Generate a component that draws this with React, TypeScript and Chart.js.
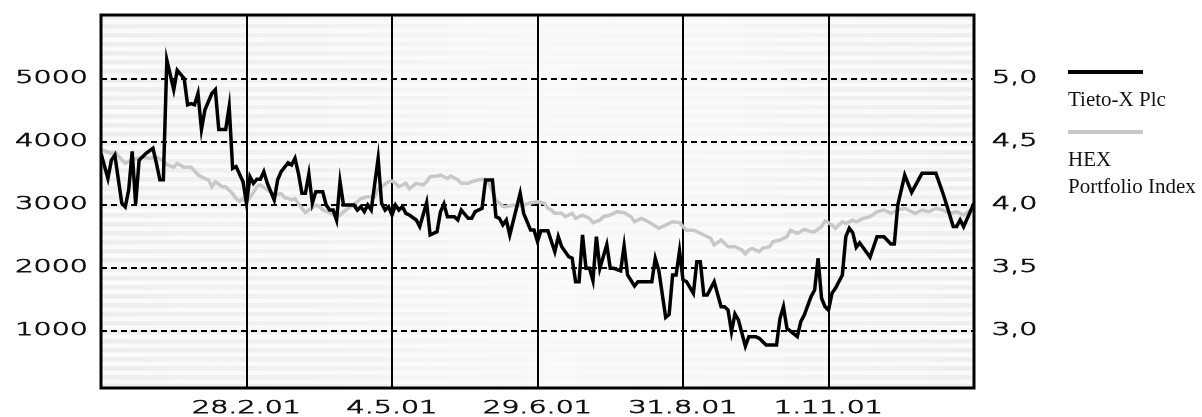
import React, { useEffect, useRef } from 'react';
import { Chart, registerables } from 'chart.js';

Chart.register(...registerables);

// ---- data ----
const dateLabels = ['', '28.2.01', '4.5.01', '29.6.01', '31.8.01', '1.11.01', ''];
const dateTickDays = [0, 42, 84, 126, 168, 210, 252];
const leftTicks = [1000, 2000, 3000, 4000, 5000];
const rightTicks = [3.0, 3.5, 4.0, 4.5, 5.0];
const seriesNames = ['Tieto-X Plc', 'HEX\nPortfolio Index'];

const tietoDays = [
  0, 2, 3, 4, 6, 7, 8, 9, 10, 11, 13, 15, 16, 17, 18, 19, 21, 22, 24, 25, 26, 27, 28, 29, 30, 32, 33, 34, 36, 37, 38, 39, 41, 42,
  43, 44, 45, 46, 47, 48, 50, 51, 52, 54, 55, 56, 57, 58, 59, 60, 61, 62, 64, 65, 66, 67, 68, 69, 70, 73, 74, 75, 76, 77, 78, 80, 81, 82, 83, 84,
  85, 86, 87, 88, 89, 91, 92, 94, 95, 97, 98, 99, 100, 102, 103, 104, 106, 107, 108, 110, 111, 113, 114, 115, 116, 117, 118, 121, 122, 124, 125, 126,
  127, 129, 131, 132, 133, 135, 136, 137, 138, 139, 140, 141, 142, 143, 144, 146, 147, 148, 150, 151, 152, 154, 155, 159, 160, 161, 163, 164, 165, 166, 167, 168,
  169, 171, 172, 173, 174, 175, 177, 179, 180, 181, 182, 183, 184, 186, 187, 189, 190, 192, 195, 196, 197, 198, 201, 202, 203, 205, 206, 207, 208, 209, 210,
  211, 212, 214, 215, 216, 217, 218, 219, 222, 224, 226, 228, 229, 230, 232, 234, 237, 241, 243, 244, 246, 247, 248, 249, 252,
];
const tietoPrice = [
  3820, 3420, 3710, 3790, 3030, 2970, 3240, 3850, 3015, 3710, 3820, 3900, 3660, 3400, 3400, 5300, 4830, 5140, 5010, 4590, 4610, 4590, 4770, 4200, 4510, 4770, 4830, 4200, 4200, 4560, 3580, 3610, 3370, 3030,
  3450, 3345, 3410, 3410, 3530, 3345, 3080, 3400, 3530, 3670, 3635, 3740, 3500, 3185, 3185, 3490, 3027, 3210, 3210, 3000, 2920, 2920, 2760, 3370, 3000, 3000, 2920, 2973, 2894, 3000, 2920, 3740, 3027, 2920, 2973, 2840,
  3000, 2920, 2973, 2868, 2841, 2762, 2656, 3037, 2524, 2576, 2894, 3016, 2814, 2814, 2762, 2920, 2789, 2789, 2894, 2948, 3397, 3397, 2814, 2789, 2683, 2762, 2524, 3186, 2868, 2603, 2603, 2420,
  2592, 2592, 2259, 2497, 2338, 2179, 2154, 1783, 1783, 2524, 1995, 1995, 1800, 2497, 1995, 2370, 1995, 1995, 1955, 2350, 1890, 1714, 1783, 1783, 2154, 1968, 1215, 1262, 1889, 1889, 2270, 1810,
  1783, 1598, 2100, 2100, 1571, 1571, 1783, 1386, 1386, 1333, 989, 1270, 1175, 760, 910, 910, 884, 778, 778, 1200, 1386, 1043, 910, 1148, 1254, 1550, 1650, 2154, 1519, 1386, 1330,
  1598, 1678, 1889, 2497, 2630, 2560, 2330, 2400, 2170, 2497, 2497, 2381, 2381, 3000, 3476, 3200, 3503, 3503, 3190, 3020, 2660, 2660, 2762, 2656, 3027,
];

const hexDays = [
  0, 3, 4, 6, 7, 9, 12, 14, 16, 18, 19, 21, 22, 24, 26, 28, 30, 31, 32, 33, 35, 36, 38, 39, 40, 41, 42,
  44, 45, 46, 48, 50, 52, 53, 55, 56, 57, 59, 60, 62, 63, 64, 66, 68, 69, 70, 72, 74, 75, 77, 79, 80, 81, 83, 84,
  85, 86, 88, 89, 91, 93, 94, 95, 97, 98, 100, 101, 103, 104, 106, 107, 109, 111, 112, 114, 116, 117, 119, 120, 122, 124, 126,
  128, 129, 130, 131, 133, 134, 136, 137, 139, 141, 142, 144, 145, 147, 149, 151, 153, 154, 156, 158, 161, 163, 165, 167, 168,
  169, 171, 172, 174, 176, 177, 179, 181, 183, 185, 186, 187, 188, 190, 191, 193, 194, 196, 198, 199, 201, 203, 205, 206, 208, 209, 210,
  211, 212, 214, 215, 217, 218, 220, 222, 224, 226, 228, 230, 232, 235, 237, 239, 241, 243, 245, 247, 249, 251, 252,
];
const hexIndex = [
  4.44, 4.41, 4.42, 4.36, 4.33, 4.36, 4.38, 4.37, 4.38, 4.35, 4.32, 4.30, 4.33, 4.30, 4.30, 4.24, 4.21, 4.20, 4.145, 4.185, 4.145, 4.145, 4.09, 4.05, 4.03, 4.05, 4.02,
  4.10, 4.145, 4.16, 4.12, 4.08, 4.09, 4.06, 4.04, 4.05, 4.01, 3.94, 3.96, 4.00, 3.99, 3.96, 3.94, 3.907, 3.92, 3.945, 3.985, 4.026, 4.05, 4.066, 4.066, 4.13, 4.145, 4.185, 4.19,
  4.172, 4.145, 4.172, 4.13, 4.172, 4.16, 4.185, 4.225, 4.23, 4.238, 4.21, 4.23, 4.20, 4.172, 4.172, 4.185, 4.20, 4.204, 4.172, 4.04, 3.99, 3.987, 4.00, 3.992, 4.00, 4.016, 4.026,
  4.013, 3.974, 3.96, 3.934, 3.934, 3.907, 3.934, 3.894, 3.92, 3.894, 3.86, 3.88, 3.907, 3.92, 3.947, 3.939, 3.907, 3.867, 3.894, 3.867, 3.815, 3.84, 3.867, 3.86, 3.828,
  3.80, 3.80, 3.788, 3.762, 3.736, 3.683, 3.722, 3.669, 3.669, 3.643, 3.611, 3.643, 3.656, 3.629, 3.656, 3.669, 3.709, 3.722, 3.748, 3.80, 3.775, 3.807, 3.788, 3.788, 3.828, 3.875, 3.86,
  3.84, 3.815, 3.867, 3.855, 3.88, 3.867, 3.894, 3.907, 3.947, 3.96, 3.934, 3.96, 3.974, 3.934, 3.96, 3.947, 3.974, 3.96, 3.934, 3.947, 3.92, 3.96, 3.96,
];

const AXIS_FONT = '200 17px "DejaVu Sans"';
const AXIS_STRETCH = 1.68;
const LEGEND_FONT = '21px "Liberation Serif"';

function drawWide(ctx: CanvasRenderingContext2D, text: string, x: number, y: number, align: CanvasTextAlign) {
  ctx.save();
  ctx.translate(x, y);
  ctx.scale(AXIS_STRETCH, 1);
  ctx.textAlign = align;
  ctx.lineWidth = 0.75;
  ctx.strokeStyle = '#111';
  ctx.fillText(text, 0, 0);
  ctx.strokeText(text, 0, 0);
  ctx.restore();
}

const stripesPlugin = {
  id: 'stripes',
  beforeDraw(chart: any) {
    const { ctx, chartArea: a } = chart;
    ctx.save();
    ctx.fillStyle = '#fafafa';
    ctx.fillRect(a.left, a.top, a.right - a.left, a.bottom - a.top);
    const g = ctx.createLinearGradient(a.left, 0, a.right, 0);
    g.addColorStop(0, '#eeeeee');
    g.addColorStop(0.3, '#f2f2f2');
    g.addColorStop(0.5, '#f8f8f8');
    g.addColorStop(0.7, '#f6f6f6');
    g.addColorStop(0.85, '#f1f1f1');
    g.addColorStop(1, '#eeeeee');
    ctx.fillStyle = g;
    for (let y = a.top; y < a.bottom; y += 9) {
      ctx.fillRect(a.left, y, a.right - a.left, Math.min(4.5, a.bottom - y));
    }
    ctx.restore();
  },
  afterDraw(chart: any) {
    const { ctx, chartArea: a, scales } = chart;
    ctx.save();
    // frame
    ctx.strokeStyle = '#000';
    ctx.lineWidth = 3;
    ctx.strokeRect(a.left, a.top, a.right - a.left, a.bottom - a.top);

    // axis labels (from library scales)
    ctx.fillStyle = '#111';
    ctx.font = AXIS_FONT;
    ctx.textBaseline = 'middle';
    scales.y.ticks.forEach((t: any, i: number) => {
      drawWide(ctx, String(t.value), a.left - 13, scales.y.getPixelForTick(i), 'right');
    });
    scales.y1.ticks.forEach((t: any, i: number) => {
      drawWide(ctx, t.value.toFixed(1).replace('.', ','), a.right + 18, scales.y1.getPixelForTick(i), 'left');
    });
    ctx.textBaseline = 'alphabetic';
    scales.x.ticks.forEach((t: any, i: number) => {
      const idx = dateTickDays.indexOf(t.value);
      const lab = idx >= 0 ? dateLabels[idx] : '';
      if (lab) drawWide(ctx, lab, scales.x.getPixelForTick(i), a.bottom + 25, 'center');
    });

    // legend
    const lx = a.right + 94;
    const lw = 75;
    const ds = chart.data.datasets;
    ctx.lineCap = 'butt';
    ctx.strokeStyle = ds[0].borderColor;
    ctx.lineWidth = 4;
    ctx.beginPath();
    ctx.moveTo(lx, a.top + 57);
    ctx.lineTo(lx + lw, a.top + 57);
    ctx.stroke();
    ctx.strokeStyle = ds[1].borderColor;
    ctx.beginPath();
    ctx.moveTo(lx, a.top + 117);
    ctx.lineTo(lx + lw, a.top + 117);
    ctx.stroke();
    ctx.fillStyle = '#111';
    ctx.font = LEGEND_FONT;
    ctx.textAlign = 'left';
    const l0 = String(ds[0].label).split('\n');
    l0.forEach((s, k) => ctx.fillText(s, lx, a.top + 91 + k * 27));
    const l1 = String(ds[1].label).split('\n');
    l1.forEach((s, k) => ctx.fillText(s, lx, a.top + 151 + k * 27));
    ctx.restore();
  },
};

export default function App() {
  const ref = useRef<HTMLCanvasElement | null>(null);
  useEffect(() => {
    document.body.style.margin = '0';
    const canvas = ref.current!;
    const chart = new Chart(canvas, {
      type: 'line',
      data: {
        datasets: [
          {
            label: seriesNames[0],
            data: tietoDays.map((d, i) => ({ x: d, y: tietoPrice[i] })),
            yAxisID: 'y',
            borderColor: '#000000',
            borderWidth: 3.5,
            pointRadius: 0,
            tension: 0,
          },
          {
            label: seriesNames[1],
            data: hexDays.map((d, i) => ({ x: d, y: hexIndex[i] })),
            yAxisID: 'y1',
            borderColor: '#c8c8c8',
            borderWidth: 3.5,
            pointRadius: 0,
            tension: 0,
          },
        ],
      },
      options: {
        animation: false,
        responsive: false,
        devicePixelRatio: 1,
        layout: { padding: { top: 15, left: 0, right: 0, bottom: 0 } },
        plugins: { legend: { display: false }, tooltip: { enabled: false } },
        scales: {
          x: {
            type: 'linear',
            min: 0,
            max: 252,
            afterBuildTicks: (s: any) => {
              s.ticks = dateTickDays.map((v) => ({ value: v }));
            },
            afterFit: (s: any) => {
              s.height = 29;
            },
            ticks: { display: false },
            grid: { color: '#000', lineWidth: 2, drawTicks: false },
            border: { display: false },
          },
          y: {
            position: 'left',
            min: 95,
            max: 6016,
            afterBuildTicks: (s: any) => {
              s.ticks = leftTicks.map((v) => ({ value: v }));
            },
            afterFit: (s: any) => {
              s.width = 101;
            },
            ticks: { display: false },
            grid: { color: '#000', lineWidth: 2, drawTicks: false },
            border: { display: false, dash: [6, 4] },
          },
          y1: {
            position: 'right',
            min: 2.5475,
            max: 5.508,
            afterBuildTicks: (s: any) => {
              s.ticks = rightTicks.map((v) => ({ value: v }));
            },
            afterFit: (s: any) => {
              s.width = 228;
            },
            ticks: { display: false },
            grid: { display: false },
            border: { display: false },
          },
        },
      },
      plugins: [stripesPlugin],
    } as any);
    return () => chart.destroy();
  }, []);
  return <canvas ref={ref} width={1202} height={417} style={{ display: 'block', width: 1202, height: 417 }} />;
}
